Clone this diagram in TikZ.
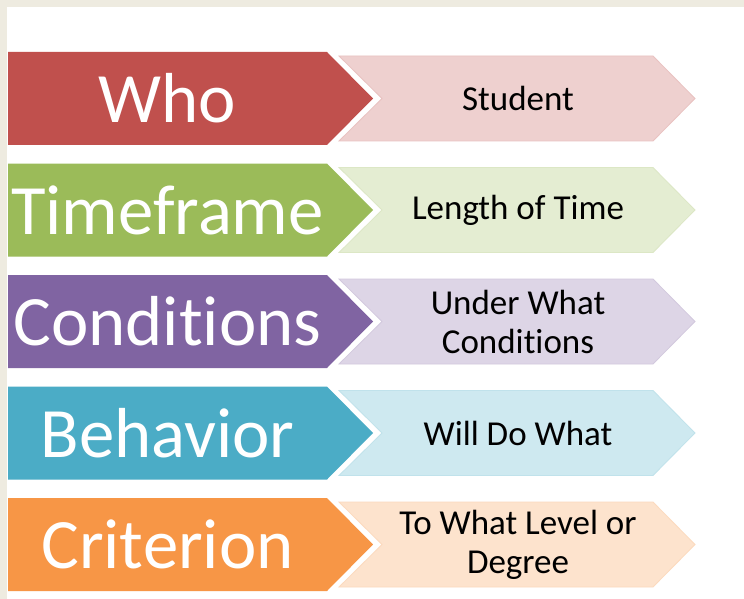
\documentclass[tikz,border=0pt]{standalone}
\usepackage{fontspec}
\setmainfont{Carlito}[Ligatures=NoCommon]
\definecolor{paper}{HTML}{EEEBE0}
\definecolor{whored}{HTML}{C0504D}
\definecolor{timegreen}{HTML}{9BBB59}
\definecolor{condpurple}{HTML}{8064A2}
\definecolor{behavblue}{HTML}{4BACC6}
\definecolor{critorange}{HTML}{F79646}

\begin{document}
\begin{tikzpicture}[x=1pt,y=-1pt,
        headtext/.style={text=white,font=\fontsize{70.8}{75}\selectfont,inner sep=0pt},
        bodytext/.style={text=black,font=\fontsize{35}{39}\selectfont,align=center,inner sep=0pt}]
        % draw the page with its frame
        \useasboundingbox (0,0) rectangle (744,599);
        \fill[paper] (0,0) rectangle (744,599);
        \fill[white] (7,7) rectangle (744,599);
        \foreach \i/\col/\head/\body in {
            0/whored/Who/Student,
            1/timegreen/Timeframe/Length of Time,
            2/condpurple/Conditions/{Under What\\Conditions},
            3/behavblue/Behavior/Will Do What,
            4/critorange/Criterion/{To What Level or\\Degree}} {
                \pgfmathsetmacro\top{52+111.5*\i}
                % dark arrow on the left
                \fill[\col] (8,\top) -- (327,\top) -- (373,\top+46.5)
                        -- (327,\top+93) -- (8,\top+93) -- cycle;
                % light chevron on the right
                \filldraw[fill=\col!27!white,draw=\col!35!white,line width=0.8pt]
                        (339,\top+4) -- (653,\top+4) -- (695,\top+46.5)
                        -- (653,\top+89) -- (339,\top+89) -- (382,\top+46.5) -- cycle;
                % the texts
                \node[headtext] (head\i) at (167.5,\top+46.5) {\head};
                \node[bodytext] (body\i) at (518,\top+46.5) {\body};
                }
\end{tikzpicture}
\end{document}
